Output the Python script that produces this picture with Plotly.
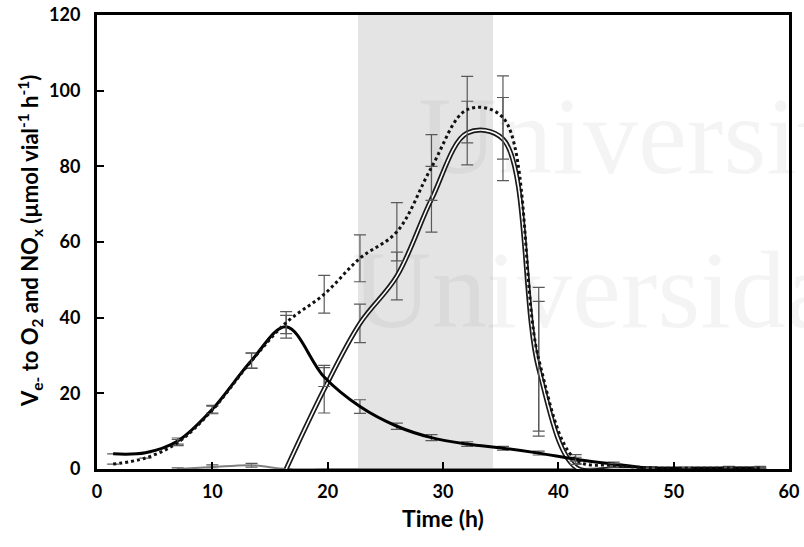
import plotly.graph_objects as go

# ---- data ----
time_h = [1.4, 4.2, 7.0, 10.0, 13.4, 16.4, 19.7, 22.8, 26.0, 29.0, 32.1, 35.2,
          38.3, 41.5, 44.8, 48.0, 51.2, 54.8, 57.5]

o2_vals = [4.0, 4.3, 7.4, 15.8, 28.7, 37.6, 24.3, 16.5, 11.3, 8.3, 6.6, 5.5,
           4.2, 2.6, 1.3, 0.2, 0.1, 0.1, 0.1]
o2_err = [0, 0, 0.8, 1.0, 2.0, 3.0, 2.5, 1.8, 0.8, 0.8, 0.6, 0.5,
          0.5, 0.5, 0.5, 0.2, 0.2, 0.2, 0.2]

total_vals = [1.3, 2.9, 7.0, 15.6, 28.6, 38.7, 46.2, 55.7, 62.7, 79.7, 95.0, 92.9,
              29.0, 2.5, 1.0, 0.3, 0.2, 0.2, 0.2]
total_err = [0, 0, 0.8, 1.0, 2.0, 2.9, 5.0, 6.2, 7.7, 8.7, 8.8, 11.0,
             19.0, 1.3, 0.5, 0.2, 0.2, 0.2, 0.2]

nox_vals = [None, None, None, None, None, 0.0, 21.1, 38.5, 51.0, 71.3, 88.8, 87.2,
            26.5, 0.5, 0.0, 0.0, 0.0, 0.0, 0.0]
nox_err = [0, 0, 0, 0, 0, 0, 6.3, 5.1, 6.3, 8.7, 8.4, 11.0,
           17.8, 1.0, 0.3, 0.1, 0.1, 0.1, 0.1]

minor_vals = [None, None, 0.0, 0.5, 1.0, 0.0, 0.0, 0.0, 0.0, 0.0, 0.0, 0.0,
              0.0, 0.0, 0.3, 0.3, 0.1, 0.4, 0.4]
minor_err = [0, 0, 0.3, 0.6, 0.5, 0, 0, 0, 0, 0, 0, 0,
             0, 0, 0.3, 0.3, 0.3, 0.3, 0.3]

shade_start, shade_end = 22.63, 34.33
x_ticks = [0, 10, 20, 30, 40, 50, 60]
y_ticks = [0, 20, 40, 60, 80, 100, 120]

ERR = dict(type="data", visible=True, color="#5a5a5a", thickness=1.2, width=6)

fig = go.Figure()

fig.add_vrect(x0=shade_start, x1=shade_end, fillcolor="#e4e4e4", line_width=0,
              layer="below")

# minor grey series near zero
fig.add_trace(go.Scatter(x=time_h, y=minor_vals, mode="lines",
                         line=dict(color="#7f7f7f", width=2, shape="spline"),
                         error_y=dict(array=minor_err, **ERR),
                         showlegend=False, hoverinfo="skip"))

# NOx: hollow double line
fig.add_trace(go.Scatter(x=time_h, y=nox_vals, mode="lines",
                         line=dict(color="#1a1a1a", width=5, shape="spline"),
                         error_y=dict(array=nox_err, **ERR),
                         showlegend=False))
fig.add_trace(go.Scatter(x=time_h, y=nox_vals, mode="lines",
                         line=dict(color="white", width=1.6, shape="spline"),
                         showlegend=False, hoverinfo="skip"))

# O2 solid line
fig.add_trace(go.Scatter(x=time_h, y=o2_vals, mode="lines",
                         line=dict(color="black", width=3, shape="spline"),
                         error_y=dict(array=o2_err, **ERR),
                         showlegend=False))

# total: dotted
fig.add_trace(go.Scatter(x=time_h, y=total_vals, mode="lines",
                         line=dict(color="#111111", width=3, dash="dot", shape="spline"),
                         error_y=dict(array=total_err, **ERR),
                         showlegend=False))

# faint watermark
WM = dict(family="Liberation Serif", size=110, color="rgba(0,0,0,0.045)")
fig.add_annotation(text="Universitat", xref="x", yref="y", x=27.7, y=88.0,
                   xanchor="left", yanchor="middle", showarrow=False, font=WM)
fig.add_annotation(text="Universidad", xref="x", yref="y", x=21.9, y=47.4,
                   xanchor="left", yanchor="middle", showarrow=False, font=WM)

# axis titles
fig.add_annotation(text="V<sub>e-</sub> to O<sub>2</sub> and NO<sub>x</sub> (µmol vial<sup>-1</sup> h<sup>-1</sup>)",
                   xref="paper", yref="paper", x=-0.097, y=0.502, textangle=-90,
                   xanchor="center", yanchor="middle", showarrow=False,
                   font=dict(family="Lato", size=22, color="black", weight="bold"))
fig.add_annotation(text="<b>Time (h)</b>", xref="paper", yref="paper", x=0.5, y=-0.107,
                   xanchor="center", yanchor="middle", showarrow=False,
                   font=dict(family="Lato", size=23, color="black"))

axis_common = dict(showline=True, linewidth=3, linecolor="black", mirror=True,
                   ticks="inside", ticklen=7, tickwidth=1.5, tickcolor="black",
                   showgrid=False, zeroline=False,
                   tickfont=dict(family="Lato", size=18, color="black", weight="bold"))

fig.update_xaxes(range=[0, 60], tickvals=x_ticks, ticklabelstandoff=4, **axis_common)
fig.update_yaxes(range=[0, 120], tickvals=y_ticks, ticklabelstandoff=10, **axis_common)

fig.update_layout(width=804, height=547,
                  margin=dict(l=97, r=15, t=15, b=78, autoexpand=False),
                  plot_bgcolor="white", paper_bgcolor="white", showlegend=False)

fig.write_html("out.html", config={"displayModeBar": False},
               post_script="document.body.style.margin='0';document.body.style.overflow='hidden';")
